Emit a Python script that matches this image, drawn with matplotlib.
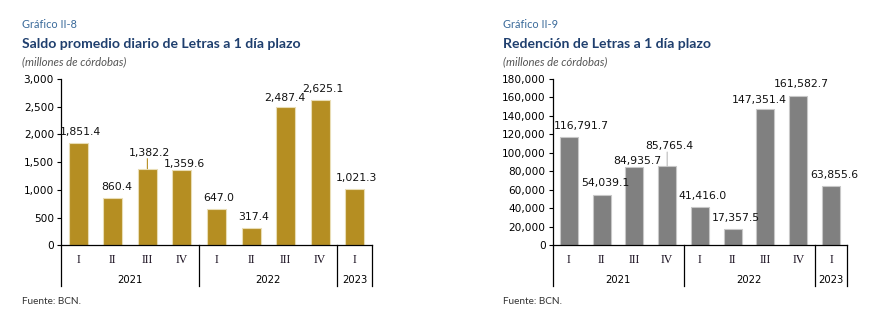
import matplotlib.pyplot as plt
import matplotlib.transforms as mtransforms

quarters = ['I', 'II', 'III', 'IV', 'I', 'II', 'III', 'IV', 'I']
years = ['2021', '2022', '2023']
year_spans = [(0, 3), (4, 7), (8, 8)]

saldo = [1851.4, 860.4, 1382.2, 1359.6, 647.0, 317.4, 2487.4, 2625.1, 1021.3]
redencion = [116791.7, 54039.1, 84935.7, 85765.4, 41416.0, 17357.5, 147351.4, 161582.7, 63855.6]

# label offsets in pixels (dx, dy above bar top)
saldo_off = [(2.5, 11), (3.5, 11), (2.5, 16), (2, 6), (2.5, 11), (2.5, 10.5), (-1, 9.5), (2.5, 11), (2, 10.5)]
redencion_off = [(12, 11.5), (3.5, 12), (3.3, 6), (2.5, 20), (3, 11), (3, 11), (-6.5, 9.5), (3, 12), (3, 11.3)]

TITLE_BLUE = '#1F3F6E'
LIGHT_BLUE = '#3A6A9A'

fig = plt.figure(figsize=(8.82, 3.3), dpi=100)


def fmt(v):
    return '{:,.1f}'.format(v)


def panel(rect, values, offsets, ymax, ystep, color, edge, lead_idx, lead_color, gx, num, title):
    ax = fig.add_axes(rect)
    x = list(range(len(values)))
    ax.bar(x, values, width=0.55, color=color, edgecolor=edge, linewidth=0.8, zorder=2)
    ax.set_xlim(-0.5, len(values) - 0.5)
    ax.set_ylim(0, ymax)
    ax.set_yticks(range(0, ymax + 1, ystep))
    ax.set_yticklabels(['{:,}'.format(v) for v in range(0, ymax + 1, ystep)],
                       fontsize=7.6, family='DejaVu Sans')
    ax.tick_params(axis='y', length=3, width=0.8, pad=2)
    ax.set_xticks([])
    for s in ['top', 'right']:
        ax.spines[s].set_visible(False)
    ax.spines['left'].set_linewidth(0.9)
    ax.spines['bottom'].set_linewidth(0.9)

    for i, v in enumerate(values):
        dx, dy = offsets[i]
        ax.annotate(fmt(v), (i, v), xytext=(dx, dy), textcoords='offset pixels',
                    ha='center', va='center', fontsize=7.8, family='DejaVu Sans',
                    color='#111111', annotation_clip=False)
    # leader line
    v = values[lead_idx]
    ax.annotate('', (lead_idx, v), xytext=(0, offsets[lead_idx][1] - 6),
                textcoords='offset pixels',
                arrowprops=dict(arrowstyle='-', color=lead_color, lw=0.8,
                                shrinkA=0, shrinkB=0))

    trans = mtransforms.blended_transform_factory(ax.transData, ax.transAxes)
    for i, q in enumerate(quarters):
        ax.text(i, -0.088, q, transform=trans, ha='center', va='center',
                fontsize=8.5, family='Liberation Serif', color='#1a1020')
    for yr, (a, b) in zip(years, year_spans):
        ax.text((a + b) / 2, -0.209, yr, transform=trans, ha='center', va='center',
                fontsize=7.2, family='DejaVu Sans')
    for xs in [-0.5, 3.5, 7.5, 8.5]:
        ax.plot([xs, xs], [0, -0.243], transform=trans, color='black', lw=0.9,
                clip_on=False, zorder=3)

    fig.text(gx / 882, 1 - 25 / 330, num, fontsize=7.9, family='Lato',
             color=LIGHT_BLUE, va='center')
    fig.text(gx / 882, 1 - 43.5 / 330, title, fontsize=10.1, family='Lato',
             weight='bold', color=TITLE_BLUE, va='center')
    fig.text(gx / 882, 1 - 62 / 330, '(millones de córdobas)', fontsize=8.2,
             family='Lato', style='italic', color='#555555', va='center')
    fig.text(gx / 882, 1 - 301 / 330, 'Fuente: BCN.', fontsize=7.2, family='Lato',
             color='#333333', va='center')
    return ax


panel([61 / 882, 84.7 / 330, 311 / 882, 166.3 / 330], saldo, saldo_off, 3000, 500,
      '#B58E22', '#E9DDB5', 2, '#B58E22', 22, 'Gráfico II-8',
      'Saldo promedio diario de Letras a 1 día plazo')
panel([552.5 / 882, 84.7 / 330, 294.9 / 882, 166.3 / 330], redencion, redencion_off, 180000, 20000,
      '#808080', '#C8C8C8', 3, '#BBBBBB', 503, 'Gráfico II-9',
      'Redención de Letras a 1 día plazo')

fig.savefig('out.png', dpi=100)
